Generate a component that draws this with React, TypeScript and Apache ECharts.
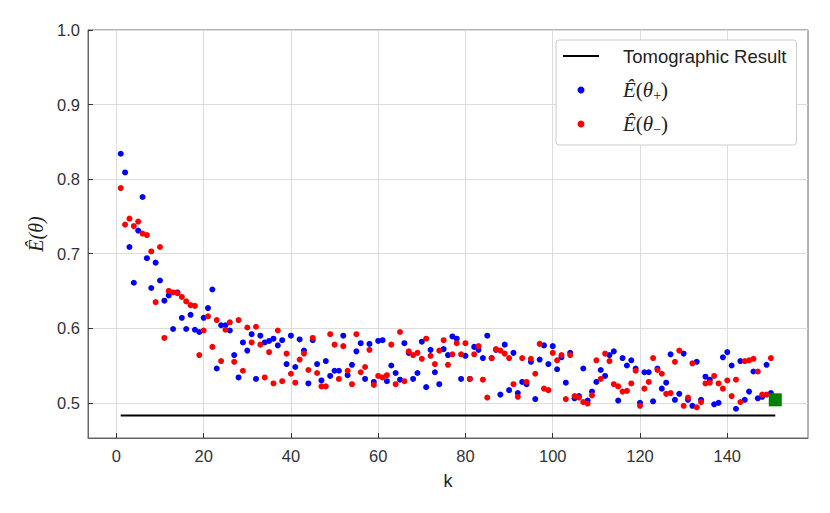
import React, { useEffect, useRef } from "react";
import * as echarts from "echarts";

const ePlus: number[] = [
  0.834, 0.809, 0.709, 0.661, 0.731, 0.776, 0.694, 0.654, 0.688, 0.664,
  0.637, 0.644, 0.599, 0.648, 0.614, 0.599, 0.618, 0.598, 0.595, 0.614,
  0.627, 0.652, 0.546, 0.604, 0.604, 0.597, 0.564, 0.534, 0.581, 0.570,
  0.592, 0.532, 0.590, 0.581, 0.583, 0.586, 0.577, 0.584, 0.552, 0.590,
  0.548, 0.585, 0.570, 0.526, 0.584, 0.552, 0.530, 0.556, 0.536, 0.543,
  0.543, 0.590, 0.537, 0.551, 0.569, 0.580, 0.532, 0.579, 0.528, 0.583,
  0.584, 0.529, 0.550, 0.540, 0.531, 0.580, 0.567, 0.532, 0.540, 0.582,
  0.521, 0.571, 0.541, 0.525, 0.572, 0.564, 0.589, 0.586, 0.532, 0.563,
  0.532, 0.575, 0.571, 0.560, 0.590, 0.560, 0.571, 0.511, 0.578, 0.517,
  0.567, 0.513, 0.528, 0.525, 0.555, 0.505, 0.558, 0.577, 0.552, 0.576,
  0.545, 0.561, 0.527, 0.567, 0.506, 0.509, 0.546, 0.503, 0.515, 0.528,
  0.544, 0.536, 0.564, 0.569, 0.503, 0.560, 0.550, 0.557, 0.546, 0.500,
  0.541, 0.541, 0.502, 0.546, 0.519, 0.527, 0.565, 0.504, 0.512, 0.566,
  0.504, 0.496, 0.555, 0.504, 0.535, 0.531, 0.498, 0.500, 0.561, 0.568,
  0.550, 0.492, 0.556, 0.504, 0.515, 0.542, 0.506, 0.508, 0.551, 0.513,
];

const eMinus: number[] = [
  0.788, 0.739, 0.747, 0.737, 0.743, 0.727, 0.725, 0.703, 0.635, 0.709,
  0.587, 0.650, 0.648, 0.647, 0.642, 0.636, 0.631, 0.630, 0.564, 0.597,
  0.616, 0.575, 0.611, 0.556, 0.598, 0.608, 0.555, 0.611, 0.543, 0.601,
  0.581, 0.602, 0.578, 0.534, 0.568, 0.526, 0.597, 0.529, 0.566, 0.539,
  0.527, 0.558, 0.566, 0.544, 0.587, 0.540, 0.522, 0.522, 0.592, 0.578,
  0.532, 0.576, 0.543, 0.525, 0.592, 0.541, 0.548, 0.571, 0.524, 0.536,
  0.534, 0.537, 0.578, 0.525, 0.595, 0.529, 0.569, 0.564, 0.567, 0.559,
  0.586, 0.563, 0.552, 0.570, 0.584, 0.551, 0.565, 0.580, 0.565, 0.580,
  0.532, 0.565, 0.576, 0.531, 0.507, 0.560, 0.572, 0.570, 0.566, 0.560,
  0.525, 0.508, 0.560, 0.528, 0.559, 0.539, 0.579, 0.519, 0.517, 0.567,
  0.557, 0.564, 0.505, 0.564, 0.509, 0.507, 0.501, 0.499, 0.510, 0.557,
  0.532, 0.566, 0.556, 0.525, 0.522, 0.515, 0.516, 0.526, 0.543, 0.496,
  0.519, 0.528, 0.560, 0.544, 0.539, 0.512, 0.513, 0.555, 0.570, 0.496,
  0.507, 0.553, 0.494, 0.501, 0.526, 0.527, 0.536, 0.526, 0.519, 0.530,
  0.509, 0.531, 0.501, 0.556, 0.557, 0.559, 0.542, 0.511, 0.511, 0.560,
];

const tomographicValue = 0.483;
const tomographicRange: number[] = [1, 151];
const finalPoint: number[] = [151, 0.504];

const xTicks: number[] = [0, 20, 40, 60, 80, 100, 120, 140];
const yTicks: number[] = [0.5, 0.6, 0.7, 0.8, 0.9, 1.0];

const SANS = "'Liberation Sans', 'DejaVu Sans', sans-serif";
const SERIF = "'Liberation Serif', 'DejaVu Serif', serif";

export default function App() {
  const ref = useRef<HTMLDivElement>(null);

  useEffect(() => {
    if (!ref.current) return;
    const chart = echarts.init(ref.current, undefined, { renderer: "svg" });

    const plusData = ePlus.map((v, i) => [i + 1, v]);
    const minusData = eMinus.map((v, i) => [i + 1, v]);
    const tomoData = tomographicRange.map((k) => [k, tomographicValue]);

    const mathRich = {
      m: { fontFamily: SERIF, fontStyle: "italic", fontSize: 21, color: "#222" },
      p: { fontFamily: SERIF, fontSize: 21, color: "#222" },
      s: { fontFamily: SERIF, fontSize: 14, color: "#222", padding: [10, 0, 0, 0] },
    };

    chart.setOption({
      animation: false,
      backgroundColor: "#ffffff",
      grid: {
        left: 88,
        top: 30,
        right: 22,
        bottom: 75,
        show: true,
        borderColor: "#666",
        borderWidth: 1,
        backgroundColor: "transparent",
      },
      legend: {
        orient: "vertical",
        left: 556,
        top: 40,
        padding: [4, 10, 9, 7],
        itemWidth: 36,
        itemHeight: 7,
        itemGap: 10,
        backgroundColor: "#ffffff",
        borderColor: "#cccccc",
        borderWidth: 1,
        borderRadius: 3,
        data: [
          {
            name: "Tomographic Result",
            icon: "path://M0,0L36,0L36,1.8L0,1.8Z",
            itemStyle: { color: "#000000" },
          },
          { name: "plus" },
          { name: "minus" },
        ],
        formatter: (name: string) => {
          if (name === "plus") return "{m|Ê}{p|(}{m|θ}{s|+}{p|)}";
          if (name === "minus") return "{m|Ê}{p|(}{m|θ}{s|−}{p|)}";
          return name;
        },
        textStyle: {
          fontFamily: SANS,
          fontSize: 18.5,
          color: "#222",
          padding: [0, 0, 0, 19],
          lineHeight: 24,
          rich: mathRich,
        },
      },
      xAxis: {
        type: "value",
        min: -6.5,
        max: 158.5,
        name: "k",
        nameLocation: "middle",
        nameGap: 34,
        nameTextStyle: { fontFamily: SANS, fontSize: 18, color: "#222" },
        axisLine: { show: true, onZero: false, lineStyle: { color: "#666", width: 1 } },
        axisTick: {
          show: true,
          inside: true,
          length: 5,
          customValues: xTicks,
          lineStyle: { color: "#333", width: 1 },
        },
        axisLabel: {
          customValues: xTicks,
          fontFamily: SANS,
          fontSize: 16.5,
          color: "#333",
          margin: 9,
        },
        splitLine: { show: true, lineStyle: { color: "#dddddd", width: 1 } },
      },
      yAxis: {
        type: "value",
        min: 0.4528,
        max: 1.0,
        name: "Ê(θ)",
        nameLocation: "middle",
        nameGap: 42,
        nameRotate: 90,
        nameTextStyle: { fontFamily: SERIF, fontStyle: "italic", fontSize: 20, color: "#222" },
        axisLine: { show: true, onZero: false, lineStyle: { color: "#666", width: 1 } },
        axisTick: {
          show: true,
          inside: true,
          length: 5,
          customValues: yTicks,
          lineStyle: { color: "#333", width: 1 },
        },
        axisLabel: {
          customValues: yTicks,
          fontFamily: SANS,
          fontSize: 16.5,
          color: "#333",
          margin: 8,
          formatter: (v: number) => v.toFixed(1),
        },
        splitLine: { show: true, lineStyle: { color: "#dddddd", width: 1 } },
      },
      series: [
        {
          name: "Tomographic Result",
          type: "line",
          data: tomoData,
          symbol: "none",
          lineStyle: { color: "#000000", width: 1.8 },
          itemStyle: { color: "#000000" },
          z: 2,
        },
        {
          name: "plus",
          type: "scatter",
          data: plusData,
          symbol: "circle",
          symbolSize: 6,
          itemStyle: { color: "#0000ff", opacity: 1 },
          z: 3,
        },
        {
          name: "minus",
          type: "scatter",
          data: minusData,
          symbol: "circle",
          symbolSize: 6,
          itemStyle: { color: "#ff0000", opacity: 1 },
          z: 4,
        },
        {
          name: "final",
          type: "scatter",
          data: [finalPoint],
          symbol: "rect",
          symbolSize: 13,
          itemStyle: { color: "#008000", opacity: 1 },
          z: 5,
        },
      ],
    });

    return () => {
      chart.dispose();
    };
  }, []);

  return (
    <div
      ref={ref}
      style={{ position: "fixed", left: 0, top: 0, width: 830, height: 513 }}
    />
  );
}
